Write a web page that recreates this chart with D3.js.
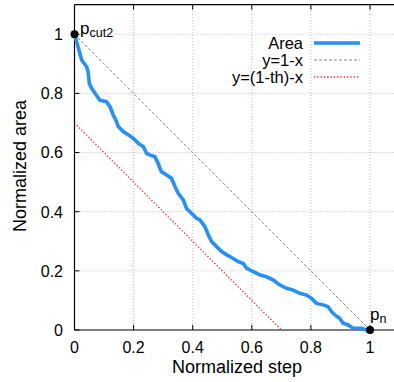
<!DOCTYPE html>
<html><head><meta charset="utf-8">
<script src="https://cdn.jsdelivr.net/npm/d3@7"></script>
<style>body{margin:0;background:#fff}svg{display:block;font-family:"Liberation Sans",Arial,sans-serif}</style>
</head><body><svg id="c" width="394" height="382"></svg>
<script>
const xTicks = [0, 0.2, 0.4, 0.6, 0.8, 1];
const yTicks = [0, 0.2, 0.4, 0.6, 0.8, 1];
const tickLabels = ["0", "0.2", "0.4", "0.6", "0.8", "1"];
const areaX = [0,0.012,0.024,0.041,0.046,0.05,0.058,0.074,0.086,0.108,0.12,0.131,0.142,0.148,0.165,0.182,0.199,0.216,0.233,0.244,0.255,0.272,0.283,0.294,0.312,0.328,0.34,0.351,0.368,0.379,0.396,0.413,0.424,0.441,0.453,0.464,0.481,0.498,0.515,0.537,0.554,0.571,0.582,0.605,0.628,0.65,0.673,0.695,0.718,0.74,0.763,0.785,0.802,0.819,0.842,0.858,0.87,0.881,0.898,0.909,0.926,0.943,0.971,0.988,1];
const areaY = [1,0.958,0.913,0.89,0.873,0.834,0.817,0.794,0.777,0.772,0.755,0.727,0.705,0.688,0.671,0.66,0.648,0.631,0.62,0.597,0.592,0.586,0.563,0.535,0.524,0.513,0.485,0.462,0.44,0.411,0.395,0.378,0.372,0.35,0.321,0.299,0.282,0.265,0.254,0.242,0.231,0.225,0.209,0.197,0.186,0.18,0.169,0.152,0.141,0.135,0.124,0.118,0.107,0.09,0.085,0.079,0.062,0.051,0.039,0.023,0.017,0.006,0.006,0,0];
const th = 0.3;
const legendLabels = ["Area", "y=1-x", "y=(1-th)-x"];

const svg = d3.select("#c");
const x = d3.scaleLinear().domain([0, 1.1]).range([74.5, 399.55]);
const y = d3.scaleLinear().domain([0, 1.1]).range([330, 4.7]);

// grid
const g = svg.append("g");
g.selectAll(".gx").data(xTicks.filter(d => d > 0)).join("line")
  .attr("x1", d => x(d)).attr("x2", d => x(d)).attr("y1", y(0)).attr("y2", y(1.1))
  .attr("stroke", "#bdbdbd").attr("stroke-width", 1).attr("stroke-dasharray", "1,2");
g.selectAll(".gy").data(yTicks.filter(d => d > 0)).join("line")
  .attr("y1", d => y(d)).attr("y2", d => y(d)).attr("x1", x(0)).attr("x2", x(1.1))
  .attr("stroke", "#bdbdbd").attr("stroke-width", 1).attr("stroke-dasharray", "1,2");

// axes frame
svg.append("line").attr("x1", x(0)).attr("x2", x(0)).attr("y1", y(0)).attr("y2", y(1.1)).attr("stroke", "#000").attr("stroke-width", 1.2);
svg.append("line").attr("x1", x(0)).attr("x2", x(1.1)).attr("y1", y(0)).attr("y2", y(0)).attr("stroke", "#000").attr("stroke-width", 1.2);
svg.append("line").attr("x1", x(0)).attr("x2", x(1.1)).attr("y1", y(1.1)).attr("y2", y(1.1)).attr("stroke", "#000").attr("stroke-width", 1.2);

// ticks (inward)
svg.selectAll(".tb").data(xTicks).join("line").attr("x1", d => x(d)).attr("x2", d => x(d)).attr("y1", y(0)).attr("y2", y(0) - 5).attr("stroke", "#000");
svg.selectAll(".tt").data(xTicks).join("line").attr("x1", d => x(d)).attr("x2", d => x(d)).attr("y1", y(1.1)).attr("y2", y(1.1) + 5).attr("stroke", "#000");
svg.selectAll(".tl").data(yTicks).join("line").attr("y1", d => y(d)).attr("y2", d => y(d)).attr("x1", x(0)).attr("x2", x(0) + 5).attr("stroke", "#000");

// tick labels
svg.selectAll(".xl").data(xTicks).join("text").attr("x", d => x(d)).attr("y", 353)
  .attr("text-anchor", "middle").attr("font-size", 16).text((d, i) => tickLabels[i]);
svg.selectAll(".yl").data(yTicks).join("text").attr("x", 63).attr("y", d => y(d) + 5.8)
  .attr("text-anchor", "end").attr("font-size", 16).text((d, i) => tickLabels[i]);

// titles
svg.append("text").attr("x", 237).attr("y", 373).attr("text-anchor", "middle").attr("font-size", 18).text("Normalized step");
svg.append("text").attr("transform", "translate(26,166) rotate(-90)").attr("text-anchor", "middle").attr("font-size", 18).text("Normalized area");

// reference lines
const ln = d3.line().x(d => x(d[0])).y(d => y(d[1]));
svg.append("path").attr("d", ln([[0, 1], [1, 0]])).attr("fill", "none").attr("stroke", "#888").attr("stroke-width", 1).attr("stroke-dasharray", "3,2");
svg.append("path").attr("d", ln([[0, 1 - th], [1 - th, 0]])).attr("fill", "none").attr("stroke", "#ff2020").attr("stroke-width", 1.3).attr("stroke-dasharray", "1.3,2");

// area curve
const pts = areaX.map((v, i) => [v, areaY[i]]);
svg.append("path").attr("d", d3.line().x(d => x(d[0])).y(d => y(d[1])).curve(d3.curveLinear)(pts))
  .attr("fill", "none").attr("stroke", "#2290ff").attr("stroke-width", 3.6).attr("stroke-linejoin", "miter");

// legend
const legY = [43, 60, 77];
const legStyles = [
  {c: "#2290ff", w: 3.5, d: null},
  {c: "#888", w: 1, d: "3,2"},
  {c: "#ff2020", w: 1.3, d: "1.3,2"}
];
legendLabels.forEach((t, i) => {
  svg.append("text").attr("x", 303).attr("y", legY[i] + 6).attr("text-anchor", "end").attr("font-size", 16.5).text(t);
  svg.append("line").attr("x1", 314).attr("x2", 360).attr("y1", legY[i]).attr("y2", legY[i])
    .attr("stroke", legStyles[i].c).attr("stroke-width", legStyles[i].w).attr("stroke-dasharray", legStyles[i].d);
});

// end points
svg.selectAll(".pt").data([[0, 1], [1, 0]]).join("circle").attr("cx", d => x(d[0])).attr("cy", d => y(d[1])).attr("r", 4).attr("fill", "#000");
const t1 = svg.append("text").attr("x", 80).attr("y", 34).attr("font-size", 17);
t1.append("tspan").text("p");
t1.append("tspan").attr("font-size", 12.5).attr("dy", 3).text("cut2");
const t2 = svg.append("text").attr("x", 370).attr("y", 320).attr("font-size", 17);
t2.append("tspan").text("p");
t2.append("tspan").attr("font-size", 12.5).attr("dy", 3).text("n");
</script></body></html>
